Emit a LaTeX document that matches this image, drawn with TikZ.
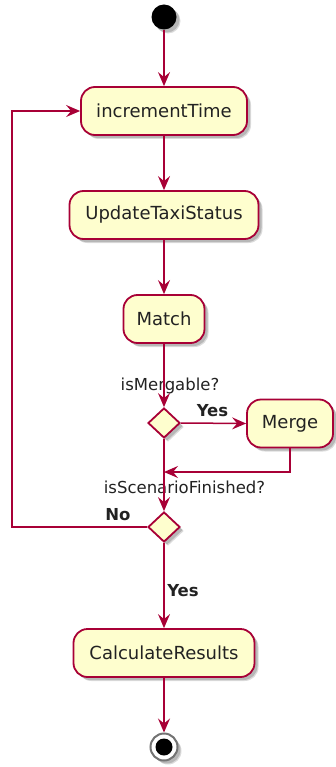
\documentclass[tikz,border=0pt]{standalone}
\usepackage{fontspec}
\setmainfont{DejaVu Sans}
\usetikzlibrary{shapes.geometric,arrows.meta,shadows}
\definecolor{umlfill}{HTML}{FEFECE}
\definecolor{umlline}{HTML}{A80036}
\definecolor{umltext}{HTML}{222222}
\tikzset{
  shad/.style={drop shadow={shadow xshift=4pt,shadow yshift=-4pt,opacity=0.2,fill=black!70},
               drop shadow={shadow xshift=3pt,shadow yshift=-3pt,opacity=0.3,fill=black!60}},
  actbox/.style={draw=umlline,fill=umlfill,line width=1.8pt,rounded corners=14pt,
    minimum height=48pt,inner sep=0pt,text=umltext,shad,
    font=\fontsize{18}{20}\selectfont},
  decis/.style={diamond,draw=umlline,fill=umlfill,line width=1.8pt,inner sep=0pt,
    minimum width=32pt,minimum height=30pt,shad},
  flow/.style={draw=umlline,line width=1.5pt,-{Stealth[length=14pt,width=12pt,inset=5pt]}},
  lab/.style={inner sep=0pt,text=umltext,font=\fontsize{16.5}{18}\selectfont},
  blab/.style={lab,font=\fontsize{16.5}{18}\selectfont\bfseries},
}
\begin{document}
\begin{tikzpicture}[x=1pt,y=-1pt]
\useasboundingbox (0,0) rectangle (336,767);
\node[circle,fill=black,minimum size=25pt,inner sep=0pt,shad] (start) at (164,17) {};
\node[actbox,minimum width=166pt] (inc) at (164,111) {incrementTime};
\node[actbox,minimum width=189pt] (upd) at (164,215) {UpdateTaxiStatus};
\node[actbox,minimum width=81pt] (match) at (164,319) {Match};
\node[decis] (d1) at (164,423) {};
\node[actbox,minimum width=86pt] (merge) at (290,423.5) {Merge};
\node[decis] (d2) at (164,527) {};
\node[actbox,minimum width=181pt] (calc) at (164,653) {CalculateResults};
\node[circle,draw=black!55,fill=white,line width=2pt,minimum size=27pt,inner sep=0pt,shad] (stop) at (164,747) {};
\node[circle,fill=black,minimum size=17pt,inner sep=0pt] (stopin) at (stop) {};
\coordinate (mj) at (164,472);
\coordinate (lp1) at (12,527);
\coordinate (lp2) at (12,111);
\node[lab] (l1) at (170,386) {isMergable?};
\node[blab] (l2) at (212.5,411) {Yes};
\node[lab] (l3) at (184.5,487) {isScenarioFinished?};
\node[blab] (l4) at (118,515) {No};
\node[blab] (l5) at (183,591) {Yes};
\draw[flow] (start) -- (inc);
\draw[flow] (inc) -- (upd);
\draw[flow] (upd) -- (match);
\draw[flow] (match) -- (d1.north);
\draw[flow] (d1.east) -- (merge.west);
\draw[flow] (d1.south) -- (d2.north);
\draw[flow] (merge.south) |- (mj);
\draw[flow] (d2.west) -- (lp1) -- (lp2) -- (inc.west);
\draw[flow] (d2.south) -- (calc.north);
\draw[flow] (calc) -- (stop);
\end{tikzpicture}
\end{document}
